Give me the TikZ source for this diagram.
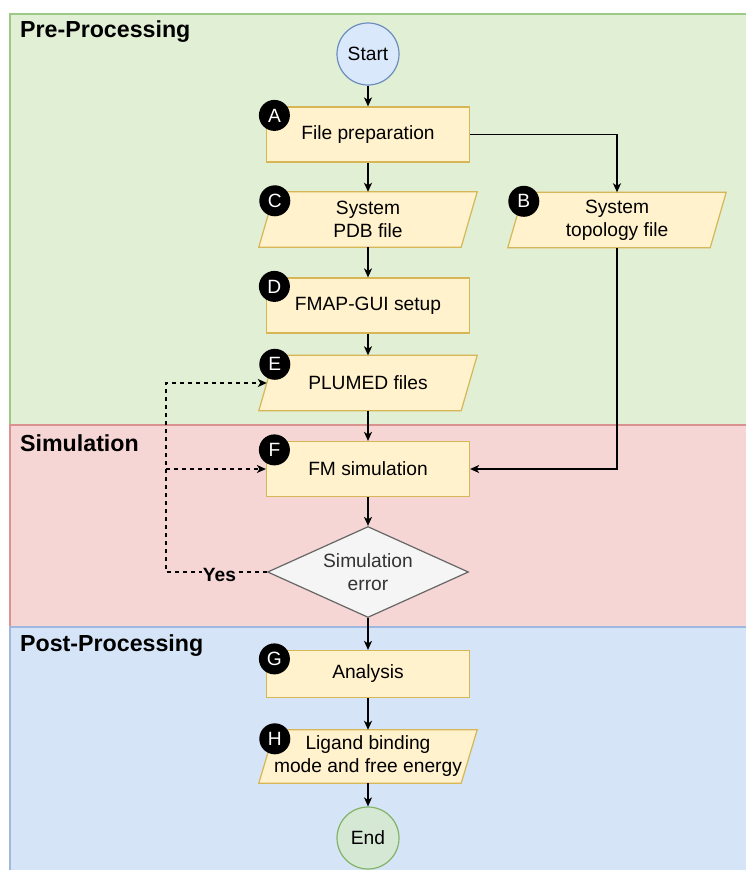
\documentclass[tikz,border=0pt]{standalone}
\usepackage{fontspec}
\setmainfont{Liberation Sans}
\usetikzlibrary{arrows.meta,shapes.geometric,calc}
\definecolor{gband}{HTML}{E1EFD5}
\definecolor{gline}{HTML}{9CCA86}
\definecolor{rband}{HTML}{F5D6D4}
\definecolor{rline}{HTML}{D9928F}
\definecolor{bband}{HTML}{D5E4F6}
\definecolor{bline}{HTML}{9EB8E0}
\definecolor{boxfill}{HTML}{FFF2CC}
\definecolor{boxline}{HTML}{D6B656}
\definecolor{startfill}{HTML}{DAE8FC}
\definecolor{startline}{HTML}{6C8EBF}
\definecolor{endfill}{HTML}{D5E8D4}
\definecolor{endline}{HTML}{82B366}
\definecolor{decfill}{HTML}{F5F5F5}
\definecolor{decline}{HTML}{666666}
\definecolor{dectext}{HTML}{333333}
\newcommand\myBody{\fontsize{19.2}{23}\selectfont}
\newcommand\myTitle{\fontsize{23.2}{28}\selectfont\bfseries}
\pgfdeclarelayer{bandlayer}
\pgfdeclarelayer{shapelayer}
\pgfsetlayers{bandlayer,shapelayer,main}
\tikzset{
  box/.style={draw=boxline, fill=boxfill, line width=1.2pt, minimum width=203pt, minimum height=55pt, inner sep=0pt, font=\myBody, align=center},
  parabox/.style={minimum width=202pt, minimum height=55pt, inner sep=0pt, font=\myBody, align=center},
  parashape/.style={draw=boxline, fill=boxfill, line width=1.2pt},
  badge/.style={circle, fill=black, text=white, minimum size=31pt, inner sep=0pt, font=\myBody},
  term/.style={circle, minimum size=62pt, inner sep=0pt, line width=1.2pt, font=\myBody},
  arr/.style={-{Stealth[length=9pt,width=8pt,inset=2.5pt]}, line width=1.5pt},
  dsh/.style={arr, dash pattern=on 4pt off 4pt},
  sectitle/.style={anchor=west, inner sep=0pt, font=\myTitle},
  yeslbl/.style={fill=rband, inner sep=1pt, font=\myBody\bfseries}
}
\newcommand\paradraw[2]{%
  \draw[parashape] ($(#1.north west)+(#2,0)$) -- ($(#1.north east)+(#2,0)$) -- ($(#1.south east)+(-#2,0)$) -- ($(#1.south west)+(-#2,0)$) -- cycle;}
\begin{document}
\begin{tikzpicture}[x=1pt,y=-1pt]
\useasboundingbox (0,0) rectangle (746,870);
\begin{pgfonlayer}{bandlayer}
  \fill[gband] (10,14) rectangle (760,425);
  \fill[rband] (10,425) rectangle (760,627);
  \fill[bband] (10,627) rectangle (760,880);
  \draw[gline, line width=1.5pt] (760,14) -- (10,14) -- (10,425);
  \draw[rline, line width=1.5pt] (760,425) -- (10,425) -- (10,627);
  \draw[bline, line width=1.5pt] (760,627) -- (10,627) -- (10,880);
\end{pgfonlayer}
\node[sectitle] (t1) at (20,32) {Pre-Processing};
\node[sectitle] (t2) at (20,443) {Simulation};
\node[sectitle] (t3) at (20,646) {Post-Processing};

\node[term, fill=startfill, draw=startline] (start) at (368,54) {Start};
\node[box] (A) at (368,134.5) {File preparation};
\node[parabox] (C) at (368,219.5) {System\\PDB file};
\node[parabox] (B) at (617,220) {System\\topology file};
\node[box] (D) at (368,305.5) {FMAP-GUI setup};
\node[parabox] (E) at (368,383) {PLUMED files};
\node[box] (F) at (368,469) {FM simulation};
\node[diamond, aspect=2.2, minimum width=201pt, minimum height=91pt, inner sep=0pt, draw=decline, fill=decfill, text=dectext, line width=1.2pt, font=\myBody, align=center] (X) at (368,572) {Simulation\\error};
\node[box, minimum height=47pt] (G) at (368,674) {Analysis};
\node[parabox, minimum height=53pt] (H) at (368,756.5) {Ligand binding\\mode and free energy};
\node[term, fill=endfill, draw=endline] (end) at (368,838) {End};

\begin{pgfonlayer}{shapelayer}
  \paradraw{C}{8}
  \paradraw{B}{8}
  \paradraw{E}{8}
  \paradraw{H}{8}
\end{pgfonlayer}

\node[badge] (bA) at ($(A.north west)+(8.5,9)$) {A};
\node[badge] (bC) at ($(C.north west)+(8,9)$) {C};
\node[badge] (bB) at ($(B.north west)+(8,9)$) {B};
\node[badge] (bD) at ($(D.north west)+(8.5,9)$) {D};
\node[badge] (bE) at ($(E.north west)+(8,9)$) {E};
\node[badge] (bF) at ($(F.north west)+(8.5,9)$) {F};
\node[badge] (bG) at ($(G.north west)+(8.5,9)$) {G};
\node[badge] (bH) at ($(H.north west)+(8,9)$) {H};

\draw[arr] (start) -- (A);
\draw[arr] (A) -- (C);
\draw[arr] (A.east) -| (B.north);
\draw[arr] (C) -- (D);
\draw[arr] (D) -- (E);
\draw[arr] (E) -- (F);
\draw[arr] (B.south) |- (F.east);
\draw[arr] (F) -- (X);
\draw[arr] (X) -- (G);
\draw[arr] (G) -- (H);
\draw[arr] (H) -- (end);

\coordinate (lp) at (166,572);
\draw[dsh] (X.west) -- node[yeslbl, pos=0.47, yshift=-3pt] {Yes} (lp) |- (E.west);
\draw[dsh] (lp |- F.west) -- (F.west);
\end{tikzpicture}
\end{document}
